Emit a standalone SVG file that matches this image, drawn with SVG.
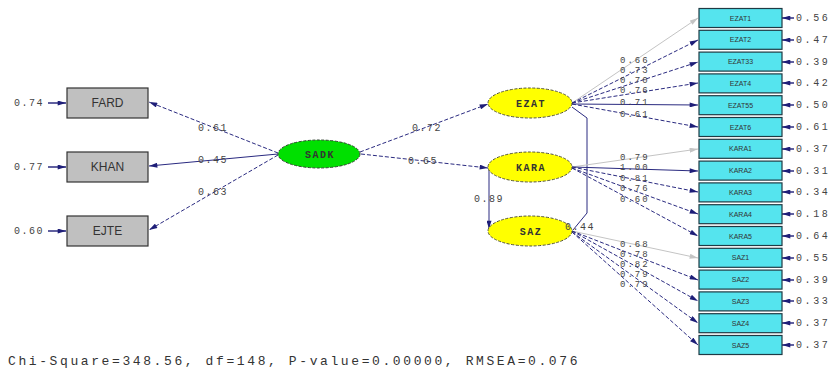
<svg xmlns="http://www.w3.org/2000/svg" width="833" height="371" viewBox="0 0 833 371">
<style>
.bg{fill:#ffffff}
.ln{fill:none;stroke:#2a2a80;stroke-width:1}
.d{stroke-dasharray:4 2}
.gr{fill:none;stroke:#c4c4c4;stroke-width:1}
.er{fill:none;stroke:#1e1e78;stroke-width:1.4}
.gbox{fill:#c0c0c0;stroke:#333333;stroke-width:1.2}
.cbox{fill:#55e4ee;stroke:#1f3a44;stroke-width:1.2}
.lat{fill:#ffff00;stroke:#555533;stroke-width:1;stroke-dasharray:3 1.5}
.ex{fill:#00e000;stroke:#334433;stroke-width:1;stroke-dasharray:3 1.5}
.t{font-family:"Liberation Mono","DejaVu Sans Mono",monospace;font-size:10px;fill:#444444;letter-spacing:1.5px}
.tf{font-family:"Liberation Mono","DejaVu Sans Mono",monospace;font-size:9px;fill:#444444;letter-spacing:2px}
.te{font-family:"Liberation Mono","DejaVu Sans Mono",monospace;font-size:10px;fill:#444444;letter-spacing:2.6px}
.tb{font-family:"Liberation Sans",Arial,sans-serif;font-size:12px;fill:#333333;text-anchor:middle}
.ts{font-family:"Liberation Sans",Arial,sans-serif;font-size:7px;fill:#333333;text-anchor:middle}
.tl{font-family:"Liberation Mono","DejaVu Sans Mono",monospace;font-size:10px;font-weight:bold;fill:#333333;text-anchor:middle;letter-spacing:1.5px}
.chi{font-family:"Liberation Mono","DejaVu Sans Mono",monospace;font-size:13px;fill:#333333;letter-spacing:2.6px}
</style>
<defs>
<marker id="a" viewBox="0 0 10 6" refX="10" refY="3" markerWidth="9" markerHeight="5" markerUnits="userSpaceOnUse" orient="auto"><path d="M0,0 L10,3 L0,6 Z" fill="#1e1e78"/></marker>
<marker id="ag" viewBox="0 0 10 6" refX="10" refY="3" markerWidth="9" markerHeight="5" markerUnits="userSpaceOnUse" orient="auto"><path d="M0,0 L10,3 L0,6 Z" fill="#c4c4c4"/></marker>
</defs>
<rect class="bg" x="0" y="0" width="833" height="371"/>

<g id="connectors">
<line class="ln d" x1="278" y1="153" x2="149" y2="102" marker-end="url(#a)"/>
<line class="ln" x1="278" y1="154" x2="149" y2="166" marker-end="url(#a)"/>
<line class="ln d" x1="278" y1="155" x2="149" y2="230" marker-end="url(#a)"/>
<line class="er" x1="48" y1="103" x2="66" y2="103" marker-end="url(#a)"/>
<line class="er" x1="48" y1="167" x2="66" y2="167" marker-end="url(#a)"/>
<line class="er" x1="48" y1="231" x2="66" y2="231" marker-end="url(#a)"/>
<line class="ln d" x1="360" y1="152" x2="488" y2="104" marker-end="url(#a)"/>
<line class="ln d" x1="361" y1="154" x2="488" y2="168" marker-end="url(#a)"/>
<line class="ln" x1="489" y1="170" x2="489" y2="229" marker-end="url(#a)"/>
<polyline class="ln" points="572,107 587,118 587,213 573,230"/>
<line class="gr" x1="572" y1="103" x2="698" y2="18" marker-end="url(#ag)"/>
<line class="ln d" x1="572" y1="103" x2="698" y2="40" marker-end="url(#a)"/>
<line class="ln d" x1="572" y1="103" x2="698" y2="62" marker-end="url(#a)"/>
<line class="ln d" x1="572" y1="103" x2="698" y2="83" marker-end="url(#a)"/>
<line class="ln" x1="572" y1="104" x2="698" y2="105" marker-end="url(#a)"/>
<line class="ln d" x1="572" y1="104" x2="698" y2="127" marker-end="url(#a)"/>
<line class="gr" x1="572" y1="167" x2="698" y2="149" marker-end="url(#ag)"/>
<line class="ln" x1="572" y1="167" x2="698" y2="171" marker-end="url(#a)"/>
<line class="ln d" x1="572" y1="167" x2="698" y2="192" marker-end="url(#a)"/>
<line class="ln d" x1="572" y1="168" x2="698" y2="214" marker-end="url(#a)"/>
<line class="ln d" x1="572" y1="168" x2="698" y2="236" marker-end="url(#a)"/>
<line class="gr" x1="572" y1="231" x2="698" y2="258" marker-end="url(#ag)"/>
<line class="ln d" x1="572" y1="231" x2="698" y2="280" marker-end="url(#a)"/>
<line class="ln d" x1="572" y1="231" x2="698" y2="301" marker-end="url(#a)"/>
<line class="ln d" x1="572" y1="232" x2="698" y2="323" marker-end="url(#a)"/>
<line class="ln d" x1="572" y1="232" x2="698" y2="345" marker-end="url(#a)"/>
<line class="er" x1="794" y1="18" x2="782" y2="18" marker-end="url(#a)"/>
<line class="er" x1="794" y1="40" x2="782" y2="40" marker-end="url(#a)"/>
<line class="er" x1="794" y1="62" x2="782" y2="62" marker-end="url(#a)"/>
<line class="er" x1="794" y1="83" x2="782" y2="83" marker-end="url(#a)"/>
<line class="er" x1="794" y1="105" x2="782" y2="105" marker-end="url(#a)"/>
<line class="er" x1="794" y1="127" x2="782" y2="127" marker-end="url(#a)"/>
<line class="er" x1="794" y1="149" x2="782" y2="149" marker-end="url(#a)"/>
<line class="er" x1="794" y1="171" x2="782" y2="171" marker-end="url(#a)"/>
<line class="er" x1="794" y1="192" x2="782" y2="192" marker-end="url(#a)"/>
<line class="er" x1="794" y1="214" x2="782" y2="214" marker-end="url(#a)"/>
<line class="er" x1="794" y1="236" x2="782" y2="236" marker-end="url(#a)"/>
<line class="er" x1="794" y1="258" x2="782" y2="258" marker-end="url(#a)"/>
<line class="er" x1="794" y1="280" x2="782" y2="280" marker-end="url(#a)"/>
<line class="er" x1="794" y1="301" x2="782" y2="301" marker-end="url(#a)"/>
<line class="er" x1="794" y1="323" x2="782" y2="323" marker-end="url(#a)"/>
<line class="er" x1="794" y1="345" x2="782" y2="345" marker-end="url(#a)"/>
</g>

<g id="FARD"><rect class="gbox" x="67" y="88" width="81" height="30"/><text class="tb" x="107.5" y="107">FARD</text></g>
<g id="KHAN"><rect class="gbox" x="67" y="152" width="81" height="30"/><text class="tb" x="107.5" y="171">KHAN</text></g>
<g id="EJTE"><rect class="gbox" x="67" y="216" width="81" height="30"/><text class="tb" x="107.5" y="235">EJTE</text></g>

<g id="SADK"><ellipse class="ex" cx="319" cy="154" rx="41" ry="14"/><text class="tl" x="320" y="157.5">SADK</text></g>
<g id="EZAT"><ellipse class="lat" cx="530" cy="103" rx="42" ry="15"/><text class="tl" x="531" y="106.5">EZAT</text></g>
<g id="KARA"><ellipse class="lat" cx="530" cy="167" rx="42" ry="15"/><text class="tl" x="531" y="170.5">KARA</text></g>
<g id="SAZ"><ellipse class="lat" cx="530" cy="231" rx="42" ry="15"/><text class="tl" x="531" y="234.5">SAZ</text></g>

<g id="EZAT1"><rect class="cbox" x="699" y="8.5" width="83" height="19"/><text class="ts" x="740.5" y="20.5">EZAT1</text></g>
<g id="EZAT2"><rect class="cbox" x="699" y="30.3" width="83" height="19"/><text class="ts" x="740.5" y="42.3">EZAT2</text></g>
<g id="EZAT33"><rect class="cbox" x="699" y="52.1" width="83" height="19"/><text class="ts" x="740.5" y="64.1">EZAT33</text></g>
<g id="EZAT4"><rect class="cbox" x="699" y="73.9" width="83" height="19"/><text class="ts" x="740.5" y="85.9">EZAT4</text></g>
<g id="EZAT55"><rect class="cbox" x="699" y="95.7" width="83" height="19"/><text class="ts" x="740.5" y="107.7">EZAT55</text></g>
<g id="EZAT6"><rect class="cbox" x="699" y="117.5" width="83" height="19"/><text class="ts" x="740.5" y="129.5">EZAT6</text></g>
<g id="KARA1"><rect class="cbox" x="699" y="139.3" width="83" height="19"/><text class="ts" x="740.5" y="151.3">KARA1</text></g>
<g id="KARA2"><rect class="cbox" x="699" y="161.1" width="83" height="19"/><text class="ts" x="740.5" y="173.1">KARA2</text></g>
<g id="KARA3"><rect class="cbox" x="699" y="182.9" width="83" height="19"/><text class="ts" x="740.5" y="194.9">KARA3</text></g>
<g id="KARA4"><rect class="cbox" x="699" y="204.7" width="83" height="19"/><text class="ts" x="740.5" y="216.7">KARA4</text></g>
<g id="KARA5"><rect class="cbox" x="699" y="226.5" width="83" height="19"/><text class="ts" x="740.5" y="238.5">KARA5</text></g>
<g id="SAZ1"><rect class="cbox" x="699" y="248.3" width="83" height="19"/><text class="ts" x="740.5" y="260.3">SAZ1</text></g>
<g id="SAZ2"><rect class="cbox" x="699" y="270.1" width="83" height="19"/><text class="ts" x="740.5" y="282.1">SAZ2</text></g>
<g id="SAZ3"><rect class="cbox" x="699" y="291.9" width="83" height="19"/><text class="ts" x="740.5" y="303.9">SAZ3</text></g>
<g id="SAZ4"><rect class="cbox" x="699" y="313.7" width="83" height="19"/><text class="ts" x="740.5" y="325.7">SAZ4</text></g>
<g id="SAZ5"><rect class="cbox" x="699" y="335.5" width="83" height="19"/><text class="ts" x="740.5" y="347.5">SAZ5</text></g>

<g id="connector-labels">
<text class="t" x="198" y="131">0.61</text>
<text class="t" x="198" y="163">0.45</text>
<text class="t" x="198" y="195">0.63</text>
<text class="t" x="412" y="131">0.72</text>
<text class="t" x="408" y="164">0.65</text>
<text class="t" x="474" y="202">0.89</text>
<text class="t" x="565" y="230">0.44</text>
<text class="tf" x="620" y="63">0.66</text>
<text class="tf" x="620" y="73">0.73</text>
<text class="tf" x="620" y="83">0.70</text>
<text class="tf" x="620" y="93">0.76</text>
<text class="tf" x="620" y="105">0.71</text>
<text class="tf" x="620" y="117">0.61</text>
<text class="tf" x="620" y="160">0.79</text>
<text class="tf" x="620" y="170">1.00</text>
<text class="tf" x="620" y="181">0.81</text>
<text class="tf" x="620" y="191">0.76</text>
<text class="tf" x="620" y="202">0.60</text>
<text class="tf" x="620" y="247">0.68</text>
<text class="tf" x="620" y="257">0.78</text>
<text class="tf" x="620" y="267">0.82</text>
<text class="tf" x="620" y="277">0.79</text>
<text class="tf" x="620" y="287">0.79</text>
<text class="t" x="14" y="106">0.74</text>
<text class="t" x="14" y="170">0.77</text>
<text class="t" x="14" y="234">0.60</text>
<text class="te" x="796" y="21">0.56</text>
<text class="te" x="796" y="43">0.47</text>
<text class="te" x="796" y="65">0.39</text>
<text class="te" x="796" y="86">0.42</text>
<text class="te" x="796" y="108">0.50</text>
<text class="te" x="796" y="130">0.61</text>
<text class="te" x="796" y="152">0.37</text>
<text class="te" x="796" y="174">0.31</text>
<text class="te" x="796" y="195">0.34</text>
<text class="te" x="796" y="217">0.18</text>
<text class="te" x="796" y="239">0.64</text>
<text class="te" x="796" y="261">0.55</text>
<text class="te" x="796" y="283">0.39</text>
<text class="te" x="796" y="304">0.33</text>
<text class="te" x="796" y="326">0.37</text>
<text class="te" x="796" y="348">0.37</text>
</g>

<text class="chi" x="8" y="365">Chi-Square=348.56, df=148, P-value=0.00000, RMSEA=0.076</text>
</svg>
